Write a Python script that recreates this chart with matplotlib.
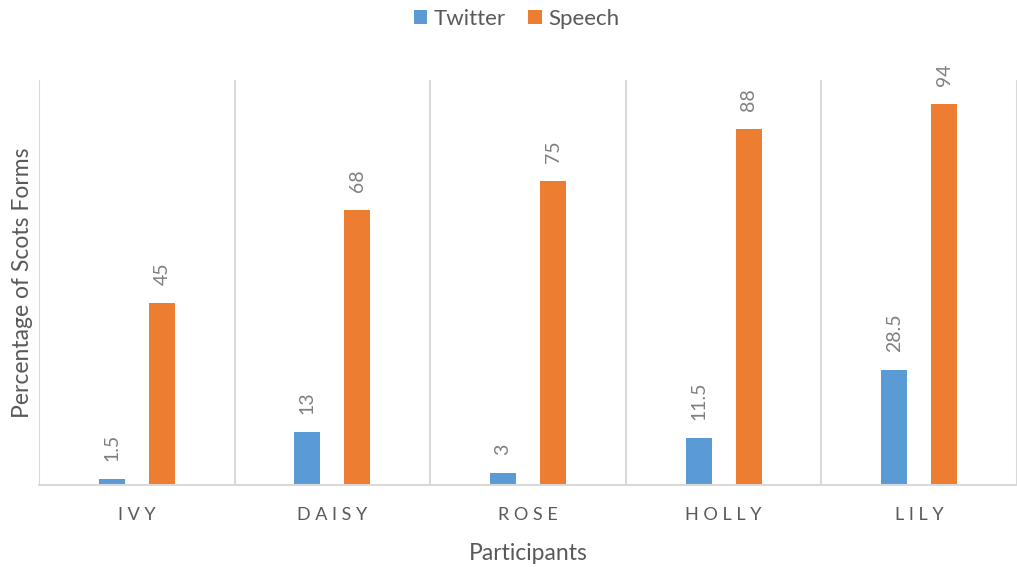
import matplotlib.pyplot as plt
import numpy as np

participants = ["IVY", "DAISY", "ROSE", "HOLLY", "LILY"]
twitter = [1.5, 13, 3, 11.5, 28.5]
speech = [45, 68, 75, 88, 94]
twitter_labels = ["1.5", "13", "3", "11.5", "28.5"]
speech_labels = ["45", "68", "75", "88", "94"]

plt.rcParams['font.family'] = ['Lato', 'DejaVu Sans']

fig = plt.figure(figsize=(10.17, 5.67), dpi=100)
ax = fig.add_axes([0.0383, 0.1446, 0.9617, 0.7143])

x = np.arange(len(participants))
w = 0.133
off = 0.128
b1 = ax.bar(x - off, twitter, w, color="#5B9BD5", label="Twitter")
b2 = ax.bar(x + off, speech, w, color="#ED7D31", label="Speech")

# data labels, rotated like Excel
for bars, labs in ((b1, twitter_labels), (b2, speech_labels)):
    for rect, lab in zip(bars, labs):
        ax.annotate(lab, (rect.get_x() + rect.get_width() / 2, rect.get_height()),
                    xytext=(0, 13), textcoords="offset points",
                    ha="center", va="bottom", rotation=90,
                    fontsize=14, color="#7F7F7F")

ax.set_xlim(-0.5, len(participants) - 0.5)
ax.set_ylim(0, 100)
ax.set_yticks([])

# vertical separators between categories
for b in np.arange(-0.5, len(participants), 1.0):
    ax.axvline(b, color="#D9D9D9", lw=1.5, zorder=0)

ax.set_xticks(x)
ax.set_xticklabels([" ".join(p) for p in participants], fontsize=13, color="#595959")
ax.tick_params(axis="x", length=0, pad=16)

for s in ("top", "right", "left"):
    ax.spines[s].set_visible(False)
ax.spines["bottom"].set_color("#D9D9D9")
ax.spines["bottom"].set_linewidth(1.5)

ax.set_xlabel("Participants", fontsize=16.5, color="#595959", labelpad=14)
ax.set_ylabel("Percentage of Scots Forms", fontsize=16.5, color="#595959", labelpad=4)

fig.legend(loc="upper center", bbox_to_anchor=(0.508, 1.02), ncol=2, frameon=False,
           fontsize=16, labelcolor="#595959", handlelength=0.6, handleheight=0.6,
           columnspacing=1.0, handletextpad=0.3)

fig.savefig("out.png", dpi=100)
